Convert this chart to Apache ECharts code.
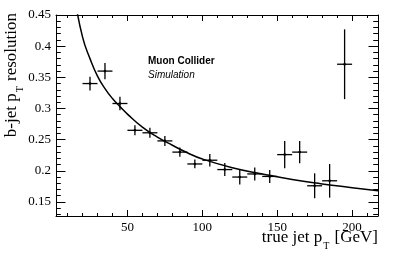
<!DOCTYPE html>
<html><head><meta charset="utf-8">
<script src="https://cdn.jsdelivr.net/npm/echarts@6/dist/echarts.min.js"></script>
<style>html,body{margin:0;padding:0;background:#fff}#c{width:399px;height:256px}</style>
</head><body><div id="c"></div>
<script>
// ---- data ----
const binCenters = [25,35,45,55,65,75,85,95,105,115,125,135,145,155,165,175,185,195];
const resolution = [0.340,0.360,0.308,0.265,0.261,0.248,0.230,0.211,0.217,0.202,0.190,0.195,0.191,0.226,0.230,0.176,0.184,0.371];
const resErr     = [0.011,0.013,0.011,0.008,0.008,0.008,0.0075,0.007,0.010,0.0105,0.012,0.0105,0.0105,0.022,0.018,0.020,0.027,0.056];
const binHalfWidth = 5;
const fitX = [15,20,25,30,35,40,45,50,60,70,80,90,100,120,140,160,180,200,217.3];
const fitY = [0.475,0.415,0.380,0.352,0.332,0.316,0.303,0.291,0.270,0.254,0.241,0.229,0.219,0.205,0.195,0.186,0.179,0.173,0.168];
const xMajor = [50,100,150,200];
const xMinor = [10,20,30,40,60,70,80,90,110,120,130,140,160,170,180,190,210];
const yMajor = [0.15,0.2,0.25,0.3,0.35,0.4,0.45];
const yMinor = [0.13,0.14,0.16,0.17,0.18,0.19,0.21,0.22,0.23,0.24,0.26,0.27,0.28,0.29,0.31,0.32,0.33,0.34,0.36,0.37,0.38,0.39,0.41,0.42,0.43,0.44];
const X_MIN = 2.3, X_MAX = 217.3, Y_MIN = 0.1275, Y_MAX = 0.45;

const serif = 'Liberation Serif';
const black = '#000';

function xAx(pos, vals, len, labels, line) {
  return {
    type: 'value', min: X_MIN, max: X_MAX, position: pos,
    axisLine: {show: line, onZero: false, lineStyle: {color: black, width: 1}},
    axisTick: {show: true, inside: true, length: len, customValues: vals, lineStyle: {color: black, width: 1}},
    axisLabel: labels ? {show: true, customValues: vals, color: black, fontFamily: serif, fontSize: 13, margin: 5} : {show: false},
    splitLine: {show: false}
  };
}
function yAx(pos, vals, len, labels, line) {
  return {
    type: 'value', min: Y_MIN, max: Y_MAX, position: pos,
    axisLine: {show: line, onZero: false, lineStyle: {color: black, width: 1}},
    axisTick: {show: true, inside: true, length: len, customValues: vals, lineStyle: {color: black, width: 1}},
    axisLabel: labels ? {show: true, customValues: vals, color: black, fontFamily: serif, fontSize: 13, margin: 5,
      formatter: v => String(+(+v).toFixed(2))} : {show: false},
    splitLine: {show: false}
  };
}

const pts = binCenters.map((x, i) => [x, resolution[i], resErr[i]]);

const chart = echarts.init(document.getElementById('c'), null, {renderer: 'canvas'});
chart.setOption({
  animation: false,
  backgroundColor: '#fff',
  grid: {left: 56, right: 21, top: 15, bottom: 40, containLabel: false},
  xAxis: [
    xAx('bottom', xMajor, 6, true, true),
    xAx('bottom', xMinor, 3, false, false),
    xAx('top', xMajor, 6, false, true),
    xAx('top', xMinor, 3, false, false)
  ],
  yAxis: [
    yAx('left', yMajor, 9.5, true, true),
    yAx('left', yMinor, 4.8, false, false),
    yAx('right', yMajor, 9.5, false, true),
    yAx('right', yMinor, 4.8, false, false)
  ],
  series: [
    {
      type: 'line', xAxisIndex: 0, yAxisIndex: 0, data: fitX.map((x, i) => [x, fitY[i]]),
      smooth: true, showSymbol: false, clip: true,
      lineStyle: {color: black, width: 1.5}
    },
    {
      type: 'custom', xAxisIndex: 0, yAxisIndex: 0, data: pts, clip: true,
      renderItem: function (params, api) {
        const x = api.value(0), y = api.value(1), e = api.value(2);
        const l = api.coord([x - binHalfWidth, y]), r = api.coord([x + binHalfWidth, y]);
        const t = api.coord([x, y + e]), b = api.coord([x, y - e]);
        const c = api.coord([x, y]);
        const st = {stroke: black, lineWidth: 1.3};
        return {type: 'group', children: [
          {type: 'line', shape: {x1: l[0], y1: l[1], x2: r[0], y2: r[1]}, style: st},
          {type: 'line', shape: {x1: t[0], y1: t[1], x2: b[0], y2: b[1]}, style: st},
          {type: 'circle', shape: {cx: c[0], cy: c[1], r: 1.3}, style: {fill: black}}
        ]};
      }
    }
  ],
  graphic: [
    {type: 'text', x: 148, y: 61, style: {text: 'Muon Collider', font: 'bold 10px "Liberation Sans"', fill: black, verticalAlign: 'middle'}},
    {type: 'text', x: 148, y: 75, style: {text: 'Simulation', font: 'italic 10px "Liberation Sans"', fill: black, verticalAlign: 'middle'}},
    {type: 'text', x: 378, y: 229, style: {
      text: '{n|true jet p}{s|T}{n| [GeV]}', align: 'right', verticalAlign: 'top',
      rich: {n: {fontFamily: serif, fontSize: 17, fill: black, verticalAlign: 'top', lineHeight: 17},
             s: {fontFamily: serif, fontSize: 10, fill: black, verticalAlign: 'top', padding: [12, 1, 0, 1]}}
    }},
    {type: 'text', x: 3, y: 13, rotation: Math.PI / 2, style: {
      text: '{n|b-jet p}{s|T}{n| resolution}', align: 'right', verticalAlign: 'top',
      rich: {n: {fontFamily: serif, fontSize: 17, fill: black, verticalAlign: 'top', lineHeight: 17},
             s: {fontFamily: serif, fontSize: 10, fill: black, verticalAlign: 'top', padding: [12, 1, 0, 1]}}
    }}
  ]
});
</script>
</body></html>
